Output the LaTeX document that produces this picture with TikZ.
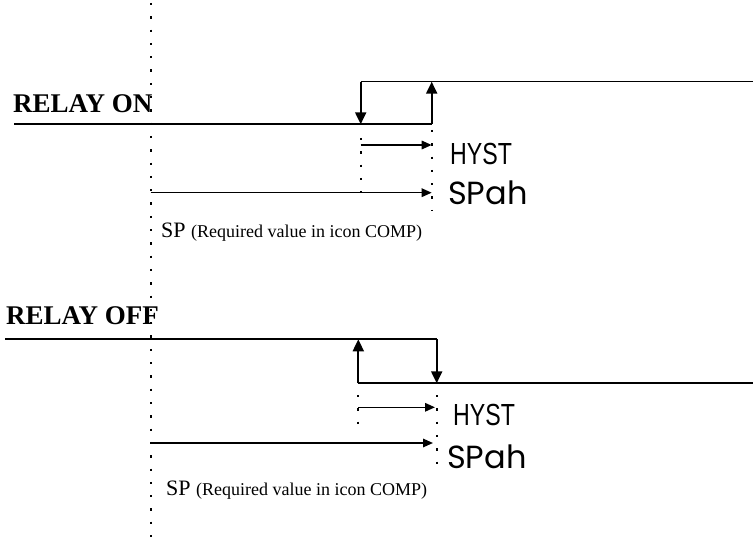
\documentclass[tikz,border=0pt]{standalone}
\usepackage{fontspec}
\setmainfont{Liberation Serif}
\newfontfamily\hystfont{Liberation Sans}
\newfontfamily\spahfont{Poppins}
\usetikzlibrary{arrows.meta}
\begin{document}
\begin{tikzpicture}[x=1pt,y=-1pt,
  lvl/.style={line width=2pt},
  lvlthin/.style={line width=1.4pt},
  varrow/.style={line width=2pt,-{Triangle[length=12pt,width=11pt]}},
  harrow/.style={line width=1.6pt,-{Triangle[length=10pt,width=8.5pt]}},
  dotline/.style={line width=2.3pt,dash pattern=on 2.3pt off 11pt},
  relaylabel/.style={font=\fontsize{27}{27}\selectfont\bfseries, anchor=base west, inner sep=0pt},
  hystlabel/.style={font=\hystfont\fontsize{30.5}{30.5}\selectfont, anchor=base west, inner sep=0pt, xscale=0.76},
  spahlabel/.style={font=\spahfont\fontsize{32}{32}\selectfont, anchor=base west, inner sep=0pt},
  splabel/.style={anchor=base west, inner sep=0pt}
]
\useasboundingbox (0,0) rectangle (753,540);
% main dotted setpoint line
\coordinate (sptop) at (150.7,3);
\coordinate (spbot) at (150.7,540);
\draw[dotline] (sptop) -- (spbot);

% ===== RELAY ON =====
\node[relaylabel] (on) at (13,113) {RELAY ON};
\coordinate (a0) at (14,124.3);
\coordinate (a1) at (360.7,124.3);
\coordinate (a2) at (431.7,124.3);
\coordinate (b1) at (360.7,81.7);
\coordinate (b2) at (431.7,81.7);
\coordinate (b3) at (753,81.7);
\draw[lvl] (a0) -- (a2);
\draw[lvlthin] (b1) -- (b3);
\draw[varrow] (b1) -- (a1);
\draw[varrow] (a2) -- (b2);
\coordinate (d1t) at (360.7,138);
\coordinate (d1b) at (360.7,195);
\coordinate (d2t) at (431.7,130);
\coordinate (d2b) at (431.7,210);
\draw[dotline] (d1t) -- (d1b);
\draw[dotline] (d2t) -- (d2b);
\coordinate (h1s) at (360.7,145);
\coordinate (h1e) at (431.7,145);
\draw[harrow] (h1s) -- (h1e);
\coordinate (s1s) at (150.7,192.7);
\coordinate (s1e) at (431.7,192.7);
\draw[harrow] (s1s) -- (s1e);
\node[hystlabel] (hyst1) at (450,165) {HYST};
\node[spahlabel] (spah1) at (448,205) {SPah};
\node[splabel] (sp1) at (161,238) {\fontsize{22}{22}\selectfont SP \fontsize{18}{18}\selectfont(Required value in icon COMP)};

% ===== RELAY OFF =====
\node[relaylabel] (off) at (6,325) {RELAY OFF};
\coordinate (c0) at (5,339.3);
\coordinate (c1) at (358.3,339.3);
\coordinate (c2) at (436.7,339.3);
\coordinate (e1) at (358.3,383.3);
\coordinate (e2) at (436.7,383.3);
\coordinate (e3) at (753,383.3);
\draw[lvl] (c0) -- (c2);
\draw[lvl] (e1) -- (e3);
\draw[varrow] (e1) -- (c1);
\draw[varrow] (c2) -- (e2);
\coordinate (f1t) at (358.3,395);
\coordinate (f1b) at (358.3,426);
\coordinate (f2t) at (436.7,395);
\coordinate (f2b) at (436.7,472);
\draw[dotline] (f1t) -- (f1b);
\draw[dotline] (f2t) -- (f2b);
\coordinate (h2s) at (358.3,407.3);
\coordinate (h2e) at (435,407.3);
\draw[harrow] (h2s) -- (h2e);
\coordinate (s2s) at (150.7,443);
\coordinate (s2e) at (433,443);
\draw[harrow] (s2s) -- (s2e);
\node[hystlabel] (hyst2) at (453,425) {HYST};
\node[spahlabel] (spah2) at (447,468) {SPah};
\node[splabel] (sp2) at (166,495) {\fontsize{22}{22}\selectfont SP \fontsize{18}{18}\selectfont(Required value in icon COMP)};
\end{tikzpicture}
\end{document}
